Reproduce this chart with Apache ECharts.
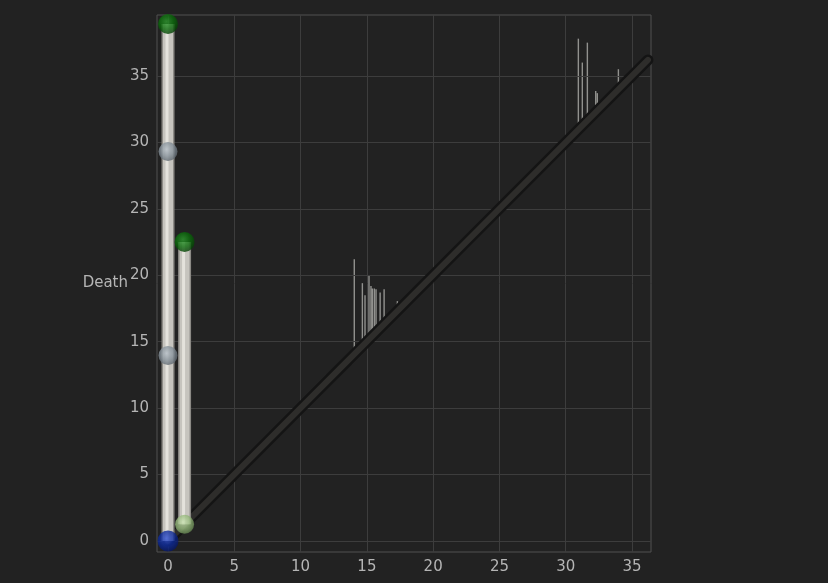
<!DOCTYPE html>
<html><head><meta charset="utf-8">
<script src="https://cdn.jsdelivr.net/npm/echarts@6/dist/echarts.min.js"></script>
<style>html,body{margin:0;padding:0;background:#222222;}#c{width:828px;height:583px;}</style>
</head><body><div id="c"></div>
<script>
// Axis ticks
const xTicks = [0, 5, 10, 15, 20, 25, 30, 35];
const yTicks = [0, 5, 10, 15, 20, 25, 30, 35];
// Major persistence pairs drawn as tubes: [birth, death]
const tubePairs = [[0, 38.9], [1.25, 22.5]];
// Small persistence pairs drawn as thin lines: [birth, death]
const thinPairs = [
  [14.05, 21.2], [14.66, 19.4], [14.86, 18.5], [15.16, 19.94], [15.31, 19.19],
  [15.41, 19.0], [15.56, 19.0], [15.69, 18.94], [16.0, 18.7], [16.3, 18.94],
  [17.3, 18.05],
  [30.95, 37.8], [31.25, 36.0], [31.63, 37.5], [32.26, 33.86], [32.38, 33.7],
  [33.97, 35.5]
];
// Critical points (spheres)
const greenPts = [[0, 38.9], [1.25, 22.5]];
const grayPts = [[0, 29.3], [0, 13.95]];
const bluePts = [[0, 0]];
const lightGreenPts = [[1.25, 1.25]];
const diagonal = [[0, 0], [36.2, 36.2]];

function sphere(c0, c1, c2) {
  return {type: 'radial', x: 0.42, y: 0.38, r: 0.65,
    colorStops: [{offset: 0, color: c0}, {offset: 0.55, color: c1}, {offset: 1, color: c2}]};
}
function pairSeries(data, layers, z) {
  return layers.map((ly, i) => ({
    type: 'custom', data: data, z: z + i, silent: true, animation: false, clip: true,
    renderItem: function (params, api) {
      const b = api.value(0), d = api.value(1);
      const p0 = api.coord([b, b]), p1 = api.coord([b, d]);
      return {type: 'line', shape: {x1: p0[0] + (ly.dx || 0), y1: p0[1], x2: p1[0] + (ly.dx || 0), y2: p1[1]},
        style: {stroke: ly.color, lineWidth: ly.width, lineCap: 'butt'}};
    }
  }));
}
const gridMarks = xTicks.map(v => ({xAxis: v})).concat(yTicks.map(v => ({yAxis: v})));

const chart = echarts.init(document.getElementById('c'));
const labelStyle = {color: '#b5b5b5', fontSize: 15, fontFamily: 'DejaVu Sans'};
chart.setOption({
  backgroundColor: '#222222',
  animation: false,
  grid: {left: 157, right: 177, top: 15, bottom: 31, show: true, borderColor: '#505050', borderWidth: 1},
  xAxis: {type: 'value', min: -0.83, max: 36.43,
    axisLine: {show: false}, axisTick: {show: false}, splitLine: {show: false},
    axisLabel: Object.assign({customValues: xTicks, margin: 8}, labelStyle)},
  yAxis: {type: 'value', min: -0.83, max: 39.58, name: 'Death', nameLocation: 'middle', nameRotate: 0, nameGap: 29,
    nameMoveOverlap: false,
    nameTextStyle: Object.assign({align: 'right', verticalAlign: 'middle', fontSize: 15.5}, labelStyle),
    axisLine: {show: false}, axisTick: {show: false}, splitLine: {show: false},
    axisLabel: Object.assign({customValues: yTicks, margin: 8}, labelStyle)},
  series: [
    {type: 'line', data: [], silent: true, z: 1,
      markLine: {silent: true, symbol: 'none', label: {show: false}, animation: false,
        lineStyle: {color: '#3d3d3d', type: 'solid', width: 1}, data: gridMarks}},
    ...pairSeries(thinPairs, [{color: 'rgba(220,220,215,0.6)', width: 1.4}], 3),
    {type: 'line', data: diagonal, symbol: 'none', silent: true, z: 5, clip: true,
      lineStyle: {color: '#141414', width: 11, cap: 'round'}},
    {type: 'line', data: diagonal, symbol: 'none', silent: true, z: 6, clip: true,
      lineStyle: {color: '#2e2d2b', width: 6, cap: 'round'}},
    ...pairSeries(tubePairs, [
      {color: '#8c8a85', width: 13},
      {color: '#c6c4be', width: 10},
      {color: '#e4e2dc', width: 3, dx: -1}
    ], 8),
    {type: 'scatter', data: greenPts, symbolSize: 20, z: 12, silent: true,
      itemStyle: {color: sphere('#2f9a2f', '#0b6b0b', '#043d04')}},
    {type: 'scatter', data: grayPts, symbolSize: 19, z: 12, silent: true,
      itemStyle: {color: sphere('#b2bcc4', '#86919a', '#5b646c')}},
    {type: 'scatter', data: bluePts, symbolSize: 21, z: 12, silent: true,
      itemStyle: {color: sphere('#2f4fd0', '#0d2a9a', '#061660')}},
    {type: 'scatter', data: lightGreenPts, symbolSize: 19, z: 12, silent: true,
      itemStyle: {color: sphere('#c8e0b0', '#98bb7e', '#5f7f4c')}}
  ]
});
</script></body></html>
